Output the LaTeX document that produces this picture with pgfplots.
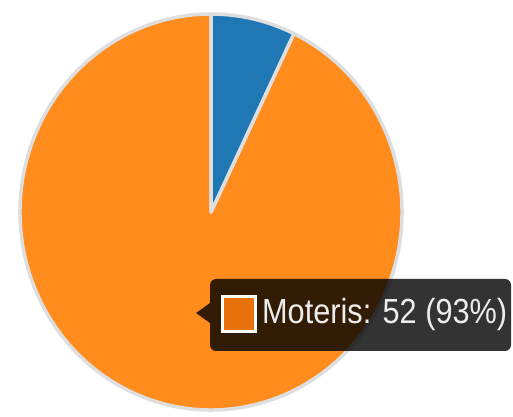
\documentclass[border=0pt]{standalone}
\usepackage{pgfplots}
\pgfplotsset{compat=1.18}
\usepackage{pgfplotstable}
\usepackage{fontspec}
\setmainfont{Liberation Sans}
\definecolor{cblue}{HTML}{1F77B4}
\definecolor{corange}{HTML}{FF8C1C}
\definecolor{cborder}{HTML}{DEDEDE}
\definecolor{csq}{HTML}{E8730C}
\pgfplotstableread{
label value
Vyrai 4
Moteris 52
}\piedata
\begin{document}
\begin{tikzpicture}
\pgfplotstablegetelem{0}{value}\of\piedata \pgfmathsetmacro{\va}{\pgfplotsretval}
\pgfplotstablegetelem{1}{value}\of\piedata \pgfmathsetmacro{\vb}{\pgfplotsretval}
\pgfmathsetmacro{\aend}{90-360*\va/(\va+\vb)}
\begin{axis}[at={(0,0)}, anchor=south west, scale only axis, width=513bp, height=417bp,
  xmin=0, xmax=513, ymin=0, ymax=417, hide axis, clip=false]
% orange slice
\filldraw[fill=corange, draw=cborder, line width=3.5bp, line join=round]
  (axis cs:211,205) -- ++(\aend:191bp and 198bp)
  arc[start angle=\aend, end angle=-270, x radius=191bp, y radius=198bp] -- cycle;
% blue slice
\filldraw[fill=cblue, draw=cborder, line width=3.5bp, line join=round]
  (axis cs:211,205) -- ++(90:191bp and 198bp)
  arc[start angle=90, end angle=\aend, x radius=191bp, y radius=198bp] -- cycle;
% tooltip
\fill[black, opacity=0.8]
  (axis cs:196,104) -- (axis cs:210,94) [rounded corners=6bp] -- (axis cs:210,66)
  -- (axis cs:511,66) -- (axis cs:511,138) -- (axis cs:210,138) [sharp corners]
  -- (axis cs:210,114) -- cycle;
\filldraw[fill=csq, draw=white, line width=3bp]
  (axis cs:222.5,85.5) rectangle (axis cs:255.5,120.5);
\node[anchor=base west, inner sep=0pt, xscale=0.88, text=white!93!black,
  font=\fontsize{35}{35}\selectfont] at (axis cs:262,93) {Moteris: 52 (93\%)};
\end{axis}
\pgfresetboundingbox
\useasboundingbox (0,0) rectangle (513bp,417bp);
\end{tikzpicture}
\end{document}
